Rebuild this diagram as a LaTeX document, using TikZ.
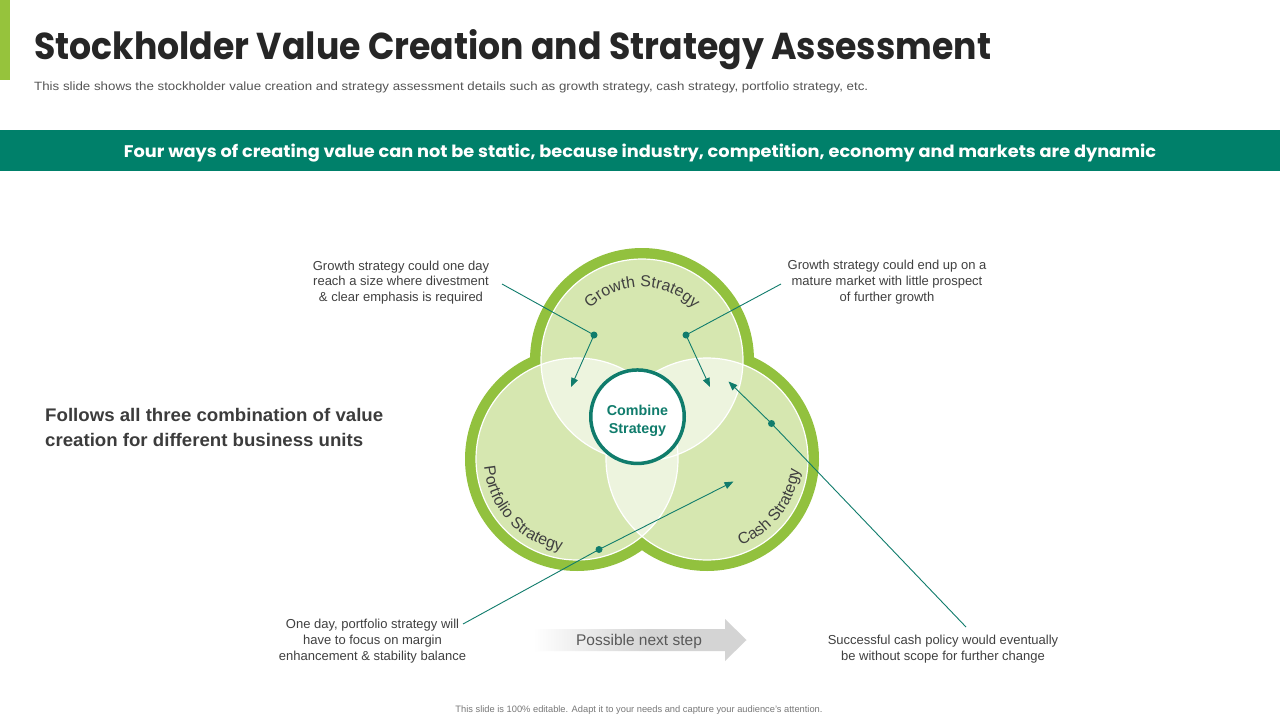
\documentclass[tikz,border=0pt]{standalone}
\usepackage{fontspec}
\setmainfont{Liberation Sans}
\newfontfamily\gothic{Poppins}
\usetikzlibrary{arrows.meta,decorations.text}
\definecolor{barGreen}{RGB}{150,195,60}
\definecolor{ringGreen}{RGB}{146,193,62}
\definecolor{fillGreen}{RGB}{214,231,176}
\definecolor{lensGreen}{RGB}{237,244,222}
\definecolor{bandTeal}{RGB}{0,128,106}
\definecolor{lineTeal}{RGB}{16,124,108}
\definecolor{titleDark}{RGB}{38,38,38}
\definecolor{leftDark}{RGB}{60,60,60}
\definecolor{txtGray}{RGB}{64,64,64}
\definecolor{subGray}{RGB}{85,85,85}
\definecolor{stepGray}{RGB}{89,89,89}
\definecolor{footGray}{RGB}{120,120,120}
\definecolor{arrowGray}{RGB}{212,212,212}
\pgfdeclarehorizontalshading{nextstepshade}{100bp}{color(0bp)=(white); color(25bp)=(white); color(52bp)=(arrowGray); color(100bp)=(arrowGray)}
\newcommand\curvefont{\fontsize{16}{16}\selectfont}
\begin{document}
\begin{tikzpicture}[x=1pt,y=-1pt,
  conn/.style={draw=lineTeal,line width=0.9pt},
  connarrow/.style={conn,-{Triangle[length=9pt,width=7pt]}},
  dotmark/.style={circle,fill=lineTeal,inner sep=0pt,minimum size=7pt},
  anno/.style={align=center,inner sep=0pt,text=txtGray,font=\fontsize{13}{15.8}\selectfont},
  plain/.style={inner sep=0pt},
  curved/.style={decorate,decoration={text along path,text align=center,text color=txtGray,text={|\curvefont|#1}}}]

\useasboundingbox (0,0) rectangle (1280,720);
\fill[white] (0,0) rectangle (1280,720);

% header
\fill[barGreen] (0,0) rectangle (10,80);
\node[plain,anchor=base west,text=titleDark] (title) at (34,59.5)
  {\resizebox{957pt}{30pt}{\gothic\bfseries Stockholder Value Creation and Strategy Assessment}};
\node[plain,anchor=base west,text=subGray] (subtitle) at (34,90.5)
  {\resizebox{834pt}{8.7pt}{This slide shows the stockholder value creation and strategy assessment details such as growth strategy, cash strategy, portfolio strategy, etc.}};
\fill[bandTeal] (0,130) rectangle (1280,171);
\node[plain,anchor=base,text=white] (band) at (640,157.7)
  {\resizebox{1032pt}{13.5pt}{\gothic\bfseries Four ways of creating value can not be static, because industry, competition, economy and markets are dynamic}};

% left statement
\node[plain,anchor=base west,text=leftDark] (follow1) at (45,421.7)
  {\resizebox{338pt}{13.2pt}{\bfseries Follows all three combination of value}};
\node[plain,anchor=base west,text=leftDark] (follow2) at (45,446)
  {\resizebox{318pt}{13.2pt}{\bfseries creation for different business units}};

% venn
\coordinate (cT) at (642,360);
\coordinate (cL) at (577,459);
\coordinate (cR) at (707,459);
\fill[ringGreen] (cT) circle (112pt) (cL) circle (112pt) (cR) circle (112pt);
\fill[fillGreen] (cT) circle (101pt) (cL) circle (101pt) (cR) circle (101pt);
\begin{scope}
  \clip (cT) circle (101pt);
  \fill[lensGreen] (cL) circle (101pt) (cR) circle (101pt);
\end{scope}
\begin{scope}
  \clip (cL) circle (101pt);
  \fill[lensGreen] (cR) circle (101pt);
\end{scope}
\draw[white,line width=1.2pt] (cT) circle (101pt) (cL) circle (101pt) (cR) circle (101pt);

\path[curved={Growth Strategy},shift={(cT)}] (-140:73) arc (-140:-40:73);
\path[curved={Portfolio Strategy},shift={(cL)}] (-175:93) arc (-175:-270:93);
\path[curved={Cash Strategy},shift={(cR)}] (-285:93) arc (-285:-360:93);

\node[circle,draw=lineTeal,line width=3.5pt,fill=white,minimum size=93.5pt,inner sep=0pt] (combine) at (637.5,416.7) {};
\node[plain,align=center,text=lineTeal,font=\fontsize{14.3}{18}\selectfont\bfseries] (combineText) at (637.5,420.5) {Combine\\Strategy};

% annotations
\node[anno] (annoTL) at (401,282.6) {Growth strategy could one day\\reach a size where divestment\\\& clear emphasis is required};
\node[anno] (annoTR) at (887,281.9) {Growth strategy could end up on a\\mature market with little prospect\\of further growth};
\node[anno] (annoBL) at (372.5,641.1) {One day, portfolio strategy will\\have to focus on margin\\enhancement \& stability balance};
\node[anno] (annoBR) at (943,648.9) {Successful cash policy would eventually\\be without scope for further change};

% connectors
\coordinate (aS) at (502,284);
\node[dotmark] (aD) at (594,335) {};
\coordinate (aT) at (571,387);
\draw[conn] (aS) -- (aD.center);
\draw[connarrow] (aD.center) -- (aT);

\coordinate (bS) at (781,284);
\node[dotmark] (bD) at (686,335) {};
\coordinate (bT) at (710,387);
\draw[conn] (bS) -- (bD.center);
\draw[connarrow] (bD.center) -- (bT);

\coordinate (cS) at (966,627);
\node[dotmark] (cD) at (771.5,423.5) {};
\coordinate (cTip) at (728.5,381.5);
\draw[conn] (cS) -- (cD.center);
\draw[connarrow] (cD.center) -- (cTip);

\coordinate (dS) at (463,624);
\node[dotmark] (dD) at (599,549.5) {};
\coordinate (dTip) at (733.5,481.5);
\draw[conn] (dS) -- (dD.center);
\draw[connarrow] (dD.center) -- (dTip);

% next step arrow
\path[shading=nextstepshade] (533,629) -- (725,629) -- (725,619) -- (746.5,640) -- (725,661) -- (725,651) -- (533,651) -- cycle;
\node[plain,anchor=base,text=stepGray,font=\fontsize{15.5}{15.5}\selectfont] (nextstep) at (639,645) {Possible next step};

% footer
\node[plain,anchor=base,text=footGray] (footer) at (639,712)
  {\resizebox{367pt}{!}{\fontsize{9}{9}\selectfont This slide is 100\% editable. Adapt it to your needs and capture your audience's attention.}};
\end{tikzpicture}
\end{document}
